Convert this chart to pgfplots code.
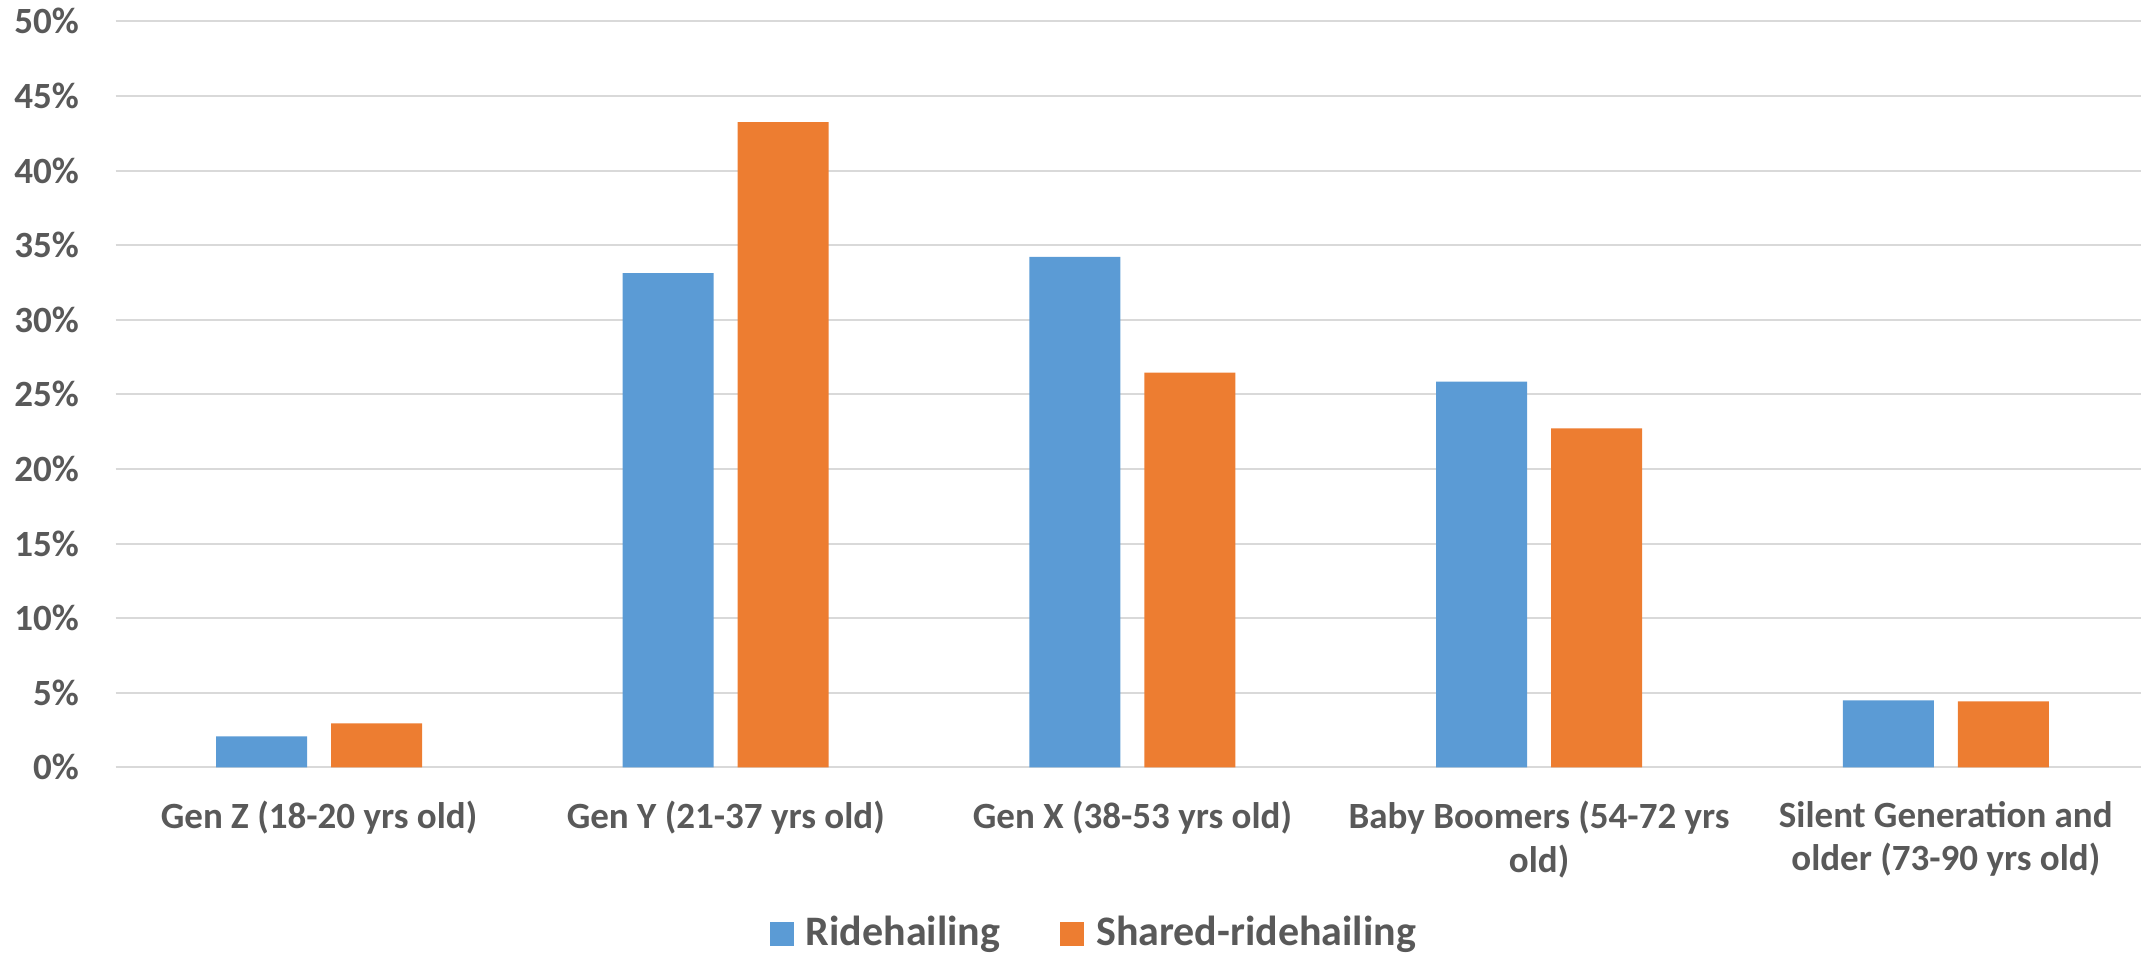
\documentclass[border=0pt]{standalone}
\usepackage{fontspec}
\setmainfont{Carlito}
\usepackage{pgfplots}
\pgfplotsset{compat=1.18}

\definecolor{ridecol}{HTML}{5B9BD5}
\definecolor{sharedcol}{HTML}{ED7D31}
\definecolor{gridcol}{HTML}{D9D9D9}
\definecolor{labelcol}{HTML}{595959}

\begin{document}
\begin{tikzpicture}
\useasboundingbox (-28.925pt,-46.925pt) rectangle (506.325pt,191.825pt);
\begin{axis}[
  at={(0,0)}, anchor=south west,
  scale only axis,
  width=506.325pt, height=186.5pt,
  ybar=6pt, bar width=22.75pt,
  xmin=-0.5, xmax=4.48,
  ymin=0, ymax=50,
  xtick={0,1,2,3,4},
  xticklabels={
    {Gen Z (18-20 yrs old)},
    {Gen Y (21-37 yrs old)},
    {Gen X (38-53 yrs old)},
    {Baby Boomers (54-72 yrs\\old)},
    {Silent Generation and\\older (73-90 yrs old)}},
  ytick={0,5,...,50},
  yticklabel={\pgfmathprintnumber{\tick}\%},
  /pgf/number format/assume math mode=true,
  major tick length=0pt,
  axis line style={draw=none},
  ymajorgrids,
  grid style={gridcol, line width=0.5pt},
  tick label style={font=\fontsize{9.25}{10.9}\selectfont\bfseries, text=labelcol},
  yticklabel style={anchor=east, inner sep=0pt, xshift=-9pt},
  xticklabel style={anchor=north, align=center, inner sep=0pt, yshift=-8.3pt},
  legend columns=2,
  legend style={
    at={(0.4835,-0.2235)}, anchor=center, draw=none,
    font=\fontsize{10.5}{12}\selectfont\bfseries, text=labelcol,
    /tikz/every even column/.append style={column sep=14pt},
    nodes={inner sep=1pt}},
  legend image code/.code={%
    \fill[#1,draw=none] (0pt,-3pt) rectangle (6pt,3pt);
    \path (8pt,0pt);},
]
\addplot[fill=ridecol, draw=none] coordinates {
  (0,2.08) (1,33.13) (2,34.22) (3,25.85) (4,4.49)};
\addplot[fill=sharedcol, draw=none] coordinates {
  (0,2.95) (1,43.25) (2,26.45) (3,22.72) (4,4.42)};
\legend{Ridehailing, Shared-ridehailing}
\end{axis}
\end{tikzpicture}
\end{document}
